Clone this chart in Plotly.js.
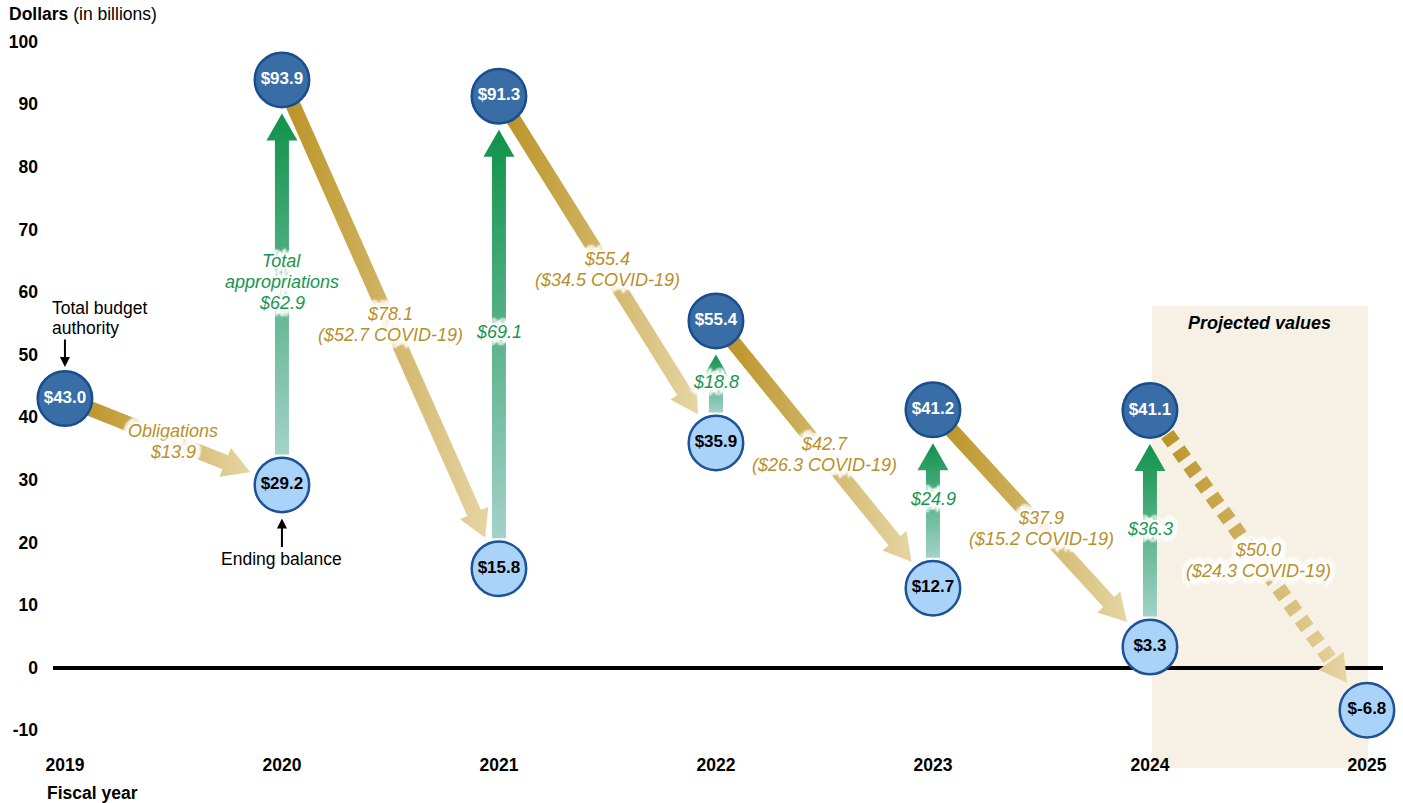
<!DOCTYPE html>
<html><head><meta charset="utf-8">
<script src="https://cdn.plot.ly/plotly-3.0.1.min.js"></script>
<style>html,body{margin:0;padding:0;background:#fff}#chart{width:1403px;height:803px}</style>
</head><body><div id="chart"></div>
<script>
// ---------- data ----------
const years = [2019, 2020, 2021, 2022, 2023, 2024, 2025];
const budgetAuthority = [43.0, 93.9, 91.3, 55.4, 41.2, 41.1, null];
const endingBalance = [null, 29.2, 15.8, 35.9, 12.7, 3.3, -6.8];
const appropriations = [null, 62.9, 69.1, 18.8, 24.9, 36.3, null];
const obligations = [13.9, 78.1, 55.4, 42.7, 37.9, 50.0];          // flow from year i to year i+1
const covidObligations = [null, 52.7, 34.5, 26.3, 15.2, 24.3];
const projectedStartYear = 2024;
const projectedEndYear = 2025;
const yTicks = [-10, 0, 10, 20, 30, 40, 50, 60, 70, 80, 90, 100];

// ---------- geometry / style ----------
const FONT = 'Liberation Sans, Arial, Helvetica, sans-serif';
const W = 1403, H = 803, M = {l: 53, r: 20, t: 23, b: 54};
const xRange = [2018.945, 2025.074], yRange = [-13, 103];
const plotW = W - M.l - M.r, plotH = H - M.t - M.b;
const kx = plotW / (xRange[1] - xRange[0]), ky = plotH / (yRange[1] - yRange[0]);
const toPx = (x, y) => [(x - xRange[0]) * kx, (y - yRange[0]) * ky];
const toData = (px, py) => [px / kx + xRange[0], py / ky + yRange[0]];
const pxX = p => (p - M.l) / plotW;
const pxY = p => (H - M.b - p) / plotH;
const R = 28.5;
const TXT = 17.5, LBL = 18, LINE = 21;

const GOLD = '#B8902A', GREEN = '#17964F';
const GOLD_SCALE = [[0, '#BB9325'], [1, '#E6D5A4']];
const GREEN_SCALE = [[0, '#A3D2C9'], [1, '#10924A']];
const HALO = '0 0 3px #fff, 4px 4px 2px #fff, -4px -4px 2px #fff, 4px -4px 2px #fff, -4px 4px 2px #fff, 5px 0 2px #fff, -5px 0 2px #fff, 0 5px 2px #fff, 0 -5px 2px #fff, 0 7px 2px #fff, 0 -7px 2px #fff, 2px 2px 1px #fff, -2px -2px 1px #fff, 2px -2px 1px #fff, -2px 2px 1px #fff';

function arrowPoly(p0, p1, sh, hh, hl) {
  const dx = p1[0] - p0[0], dy = p1[1] - p0[1], L = Math.hypot(dx, dy);
  const ux = dx / L, uy = dy / L, nx = -uy, ny = ux;
  const bx = p1[0] - ux * hl, by = p1[1] - uy * hl;
  return [
    [p0[0] + nx * sh, p0[1] + ny * sh], [bx + nx * sh, by + ny * sh], [bx + nx * hh, by + ny * hh],
    [p1[0], p1[1]],
    [bx - nx * hh, by - ny * hh], [bx - nx * sh, by - ny * sh], [p0[0] - nx * sh, p0[1] - ny * sh],
    [p0[0] + nx * sh, p0[1] + ny * sh]
  ];
}
function dashedArrowPolys(p0, p1, sh, hh, hl, dash, gap) {
  const dx = p1[0] - p0[0], dy = p1[1] - p0[1], L = Math.hypot(dx, dy);
  const ux = dx / L, uy = dy / L, nx = -uy, ny = ux;
  const polys = [];
  const baseLen = L - hl;
  for (let t = 0; t < baseLen - 2; t += dash + gap) {
    const t2 = Math.min(t + dash, baseLen);
    const a = [p0[0] + ux * t, p0[1] + uy * t], b = [p0[0] + ux * t2, p0[1] + uy * t2];
    polys.push([[a[0] + nx * sh, a[1] + ny * sh], [b[0] + nx * sh, b[1] + ny * sh],
                [b[0] - nx * sh, b[1] - ny * sh], [a[0] - nx * sh, a[1] - ny * sh],
                [a[0] + nx * sh, a[1] + ny * sh]]);
  }
  const bx = p1[0] - ux * hl, by = p1[1] - uy * hl;
  polys.push([[bx + nx * hh, by + ny * hh], [p1[0], p1[1]], [bx - nx * hh, by - ny * hh], [bx + nx * hh, by + ny * hh]]);
  return polys;
}
function polyTrace(polys, scale, type) {
  const xs = [], ys = [];
  polys.forEach((poly, i) => {
    if (i > 0) { xs.push(null); ys.push(null); }
    poly.forEach(p => { const d = toData(p[0], p[1]); xs.push(d[0]); ys.push(d[1]); });
  });
  return {type: 'scatter', x: xs, y: ys, mode: 'none', fill: 'toself',
          fillgradient: {type: type, colorscale: scale}, hoverinfo: 'skip', showlegend: false};
}

const traces = [];
const annotations = [];
const fmt = v => '$' + v.toFixed(1);

// multi-line label: one annotation per line, fixed line spacing
function addLines(base, lines, font, spacing) {
  lines.forEach((ln, j) => {
    const off = (j - (lines.length - 1) / 2) * spacing;
    annotations.push(Object.assign({}, base, {text: ln, showarrow: false, yanchor: 'middle', yshift: -off, font: font}));
  });
}

// gold obligation arrows
for (let i = 0; i < obligations.length; i++) {
  const s = toPx(years[i], budgetAuthority[i]);
  const e = toPx(years[i + 1], endingBalance[i + 1]);
  const dx = e[0] - s[0], dy = e[1] - s[1], L = Math.hypot(dx, dy), ux = dx / L, uy = dy / L;
  const tip = [e[0] - ux * 34, e[1] - uy * 34];
  if (years[i] >= projectedStartYear) {
    const p0 = [s[0] + ux * (R + 1), s[1] + uy * (R + 1)];
    traces.push(polyTrace(dashedArrowPolys(p0, tip, 7.5, 15.5, 27, 11, 8), GOLD_SCALE, 'horizontal'));
  } else {
    const p0 = [s[0] + ux * 18, s[1] + uy * 18];
    traces.push(polyTrace([arrowPoly(p0, tip, 7.5, 15.5, 27)], GOLD_SCALE, 'horizontal'));
  }
  const lines = i === 0 ? ['Obligations', fmt(obligations[i])] : [fmt(obligations[i])];
  if (covidObligations[i] != null) lines.push('(' + fmt(covidObligations[i]) + ' COVID-19)');
  addLines({x: (years[i] + years[i + 1]) / 2, y: (budgetAuthority[i] + endingBalance[i + 1]) / 2,
    xref: 'x', yref: 'y', xanchor: 'center'}, lines,
    {family: FONT, size: LBL, color: GOLD, style: 'italic', shadow: HALO}, LINE);
}

// green appropriation arrows
for (let i = 0; i < years.length; i++) {
  if (appropriations[i] == null) continue;
  const b = toPx(years[i], endingBalance[i]);
  const t = toPx(years[i], budgetAuthority[i]);
  traces.push(polyTrace([arrowPoly([b[0], b[1] + R + 2], [t[0], t[1] - R - 5], 7, 15.5, 27)], GREEN_SCALE, 'vertical'));
  const lines = i === 1 ? ['Total', 'appropriations', fmt(appropriations[i])] : [fmt(appropriations[i])];
  addLines({x: years[i], y: (budgetAuthority[i] + endingBalance[i]) / 2, xref: 'x', yref: 'y', xanchor: 'center'},
    lines, {family: FONT, size: LBL, color: GREEN, style: 'italic', shadow: HALO}, LINE);
}

// circles
const topIdx = years.map((y, i) => i).filter(i => budgetAuthority[i] != null);
const botIdx = years.map((y, i) => i).filter(i => endingBalance[i] != null);
traces.push({type: 'scatter', mode: 'markers+text', cliponaxis: false, hoverinfo: 'skip', showlegend: false,
  x: topIdx.map(i => years[i]), y: topIdx.map(i => budgetAuthority[i]),
  text: topIdx.map(i => fmt(budgetAuthority[i])), textposition: 'middle center',
  textfont: {family: FONT, size: 17, weight: 'bold', color: '#ffffff'},
  marker: {size: 2 * R - 2.5, color: '#386DA5', line: {color: '#1A4D8D', width: 2.5}}});
traces.push({type: 'scatter', mode: 'markers+text', cliponaxis: false, hoverinfo: 'skip', showlegend: false,
  x: botIdx.map(i => years[i]), y: botIdx.map(i => endingBalance[i]),
  text: botIdx.map(i => fmt(endingBalance[i])), textposition: 'middle center',
  textfont: {family: FONT, size: 17, weight: 'bold', color: '#000000'},
  marker: {size: 2 * R - 2.5, color: '#AAD3FA', line: {color: '#1D5296', width: 2.5}}});

// text annotations
const plain = {family: FONT, size: TXT, color: '#000'};
annotations.push({xref: 'paper', yref: 'paper', x: pxX(7), y: pxY(14), xanchor: 'left', yanchor: 'middle',
  text: '<b>Dollars</b> (in billions)', showarrow: false, font: plain});
annotations.push({xref: 'paper', yref: 'paper', x: pxX(45), y: pxY(793), xanchor: 'left', yanchor: 'middle',
  text: '<b>Fiscal year</b>', showarrow: false, font: plain});
addLines({xref: 'paper', yref: 'paper', x: pxX(50), y: pxY(318), xanchor: 'left', align: 'left'},
  ['Total budget', 'authority'], plain, 20);
annotations.push({xref: 'x', yref: 'y', x: years[0], y: budgetAuthority[0] + (R + 3) / ky, ax: 0, ay: -29,
  text: '', showarrow: true, arrowhead: 2, arrowsize: 1, arrowwidth: 2, arrowcolor: '#000'});
annotations.push({xref: 'x', yref: 'paper', x: years[1], y: pxY(559), xanchor: 'center', yanchor: 'middle',
  text: 'Ending balance', showarrow: false, font: plain});
annotations.push({xref: 'x', yref: 'y', x: years[1], y: endingBalance[1] - (R + 5) / ky, ax: 0, ay: 30,
  text: '', showarrow: true, arrowhead: 2, arrowsize: 1, arrowwidth: 2, arrowcolor: '#000'});
annotations.push({xref: 'x', yref: 'paper', x: (projectedStartYear + projectedEndYear) / 2 + 0.005, y: pxY(323),
  xanchor: 'center', yanchor: 'middle', text: '<b><i>Projected values</i></b>', showarrow: false,
  font: {family: FONT, size: LBL, color: '#000'}});

const xPaper = v => (v - xRange[0]) / (xRange[1] - xRange[0]);
const layout = {
  width: W, height: H, margin: {l: M.l, r: M.r, t: M.t, b: M.b, pad: 0},
  paper_bgcolor: '#ffffff', plot_bgcolor: 'rgba(0,0,0,0)',
  font: {family: FONT, size: TXT, color: '#000'}, showlegend: false,
  xaxis: {range: xRange, tickvals: years, ticktext: years.map(String), tickfont: {family: FONT, size: TXT, weight: 'bold', color: '#000'},
    showgrid: false, zeroline: false, showline: false, ticks: '', ticklabelstandoff: 3, fixedrange: true},
  yaxis: {range: yRange, tickvals: yTicks, ticktext: yTicks.map(String), tickfont: {family: FONT, size: TXT, weight: 'bold', color: '#000'},
    showgrid: false, zeroline: true, zerolinecolor: '#000', zerolinewidth: 4, showline: false, ticks: '', ticklabelstandoff: 14, fixedrange: true},
  shapes: [{type: 'rect', xref: 'paper', yref: 'paper', layer: 'below',
    x0: xPaper(projectedStartYear) + 2 / plotW, x1: xPaper(projectedEndYear) + 1 / plotW, y0: pxY(768), y1: pxY(306),
    fillcolor: '#F6F1E4', line: {width: 0}}],
  annotations: annotations
};
Plotly.newPlot('chart', traces, layout, {displayModeBar: false, staticPlot: true});
</script>
</body></html>
